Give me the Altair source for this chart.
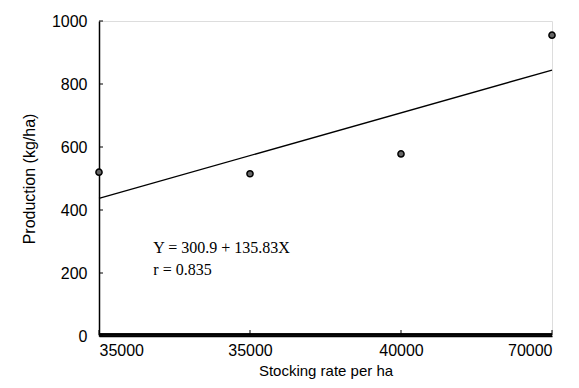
import altair as alt
import pandas as pd

# ---- data ----
x_labels = ["35000", "35000", "40000", "70000"]
x_index = [1, 2, 3, 4]
production = [520, 515, 578, 955]
intercept = 300.9
slope = 135.83
fit_x = [1, 4]
y_ticks = [0, 200, 400, 600, 800, 1000]
annot_lines = ["Y = 300.9 + 135.83X", "r = 0.835"]
annot_x = [1.36, 1.36]
annot_y = [262, 195]

pts = pd.DataFrame({"x": x_index, "y": production})
fit = pd.DataFrame({"x": fit_x, "y": [intercept + slope * v for v in fit_x]})
ann = pd.DataFrame({"x": annot_x, "y": annot_y, "t": annot_lines})
xt = pd.DataFrame({"x": x_index})
yt = pd.DataFrame({"y": y_ticks})

label_arr = "[" + ",".join(["''"] + [f"'{l}'" for l in x_labels]) + "]"

xscale = alt.Scale(domain=[1, 4], nice=False, zero=False)
yscale = alt.Scale(domain=[0, 1000], nice=False)

FONT = "Liberation Sans"

xaxis = alt.Axis(values=x_index, labelExpr=f"{label_arr}[datum.value]",
                 title="Stocking rate per ha", grid=False, ticks=False, domain=True,
                 domainColor="black", domainWidth=1.5,
                 labelFont=FONT, labelFontSize=16, labelColor="black", labelPadding=6,
                 titleFont=FONT, titleFontSize=15, titleFontWeight="normal",
                 titleColor="black", titlePadding=5)
yaxis = alt.Axis(values=y_ticks, format="d", title="Production (kg/ha)", grid=False, ticks=False,
                 domainColor="black", domainWidth=1.5,
                 labelFont=FONT, labelFontSize=16, labelColor="black", labelPadding=12,
                 titleFont=FONT, titleFontSize=16, titleFontWeight="normal",
                 titleColor="black", titlePadding=14)

base_x = alt.X("x:Q", scale=xscale, axis=xaxis)
base_y = alt.Y("y:Q", scale=yscale, axis=yaxis)

line = alt.Chart(fit).mark_line(color="black", strokeWidth=1.3).encode(x=base_x, y=base_y)

points = alt.Chart(pts).mark_point(filled=True, shape="circle", size=38,
                                   color="#666666", stroke="black", strokeWidth=1.5,
                                   opacity=1).encode(
    x=alt.X("x:Q", scale=xscale), y=alt.Y("y:Q", scale=yscale))

xbase = alt.Chart(xt).mark_rule(color="black", strokeWidth=2).encode(
    x=alt.value(0), x2=alt.value(453), y=alt.value(313.5))
xticks = alt.Chart(xt).mark_rule(color="black", strokeWidth=1).encode(
    x=alt.X("x:Q", scale=xscale), y=alt.value(314), y2=alt.value(309))
yticks = alt.Chart(yt).mark_rule(color="black", strokeWidth=1).encode(
    y=alt.Y("y:Q", scale=yscale), x=alt.value(0), x2=alt.value(4))

text = alt.Chart(ann).mark_text(align="left", baseline="alphabetic",
                                font="Liberation Serif", fontSize=16,
                                color="black").encode(
    x=alt.X("x:Q", scale=xscale), y=alt.Y("y:Q", scale=yscale), text="t:N")

chart = alt.layer(line, xbase, xticks, yticks, points, text).properties(
    width=453, height=315,
    autosize=alt.AutoSizeParams(type="none"),
    padding={"left": 91, "top": 13, "right": 19, "bottom": 44},
).configure_view(stroke=None).configure(background="white")

chart.save("out.html", embed_options={"renderer": "svg", "actions": False})
